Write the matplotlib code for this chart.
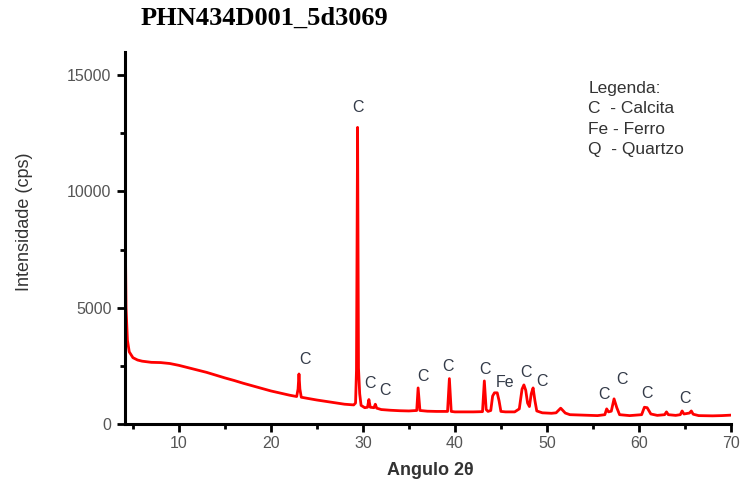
import matplotlib.pyplot as plt
from matplotlib.ticker import MultipleLocator

# difratograma (2theta, cps)
angulo = [4.1, 4.15, 4.25, 4.4, 4.6, 5.0, 5.5, 6, 7, 8, 9, 10, 11, 12, 13, 14, 15,
          16, 17, 18, 19, 20, 21, 22, 22.8, 22.95, 23.05, 23.15, 23.3, 24, 25, 26,
          27, 28, 29.0, 29.2, 29.3, 29.42, 29.52, 29.65, 29.8, 30.2, 30.5, 30.65,
          30.8, 31.2, 31.35, 31.5, 32, 33, 34, 35, 35.85, 36.0, 36.2, 37, 38, 39.2,
          39.4, 39.6, 40, 41, 42, 43.0, 43.2, 43.4, 43.6, 43.9, 44.1, 44.3, 44.6,
          44.8, 45.0, 45.5, 46.5, 47.0, 47.3, 47.5, 47.7, 47.9, 48.1, 48.3, 48.5,
          48.7, 48.9, 49.5, 50.5, 51.0, 51.5, 52.0, 52.5, 54, 55.5, 56.3, 56.5,
          56.7, 57.0, 57.3, 57.6, 57.9, 59, 60.3, 60.6, 60.9, 61.3, 62, 62.8, 63.0,
          63.2, 64, 64.5, 64.7, 64.9, 65.5, 65.7, 65.9, 66.5, 68, 69, 70]
intensidade = [14100, 9000, 5000, 3600, 3100, 2850, 2750, 2700, 2650, 2640, 2600,
               2520, 2420, 2320, 2220, 2100, 1980, 1870, 1750, 1640, 1530, 1420,
               1330, 1240, 1180, 1500, 2150, 1500, 1150, 1100, 1030, 970, 910, 850,
               820, 900, 2300, 12750, 2400, 1300, 800, 700, 720, 1050, 720, 700,
               850, 680, 620, 590, 570, 560, 580, 1550, 580, 550, 540, 540, 1950,
               540, 520, 520, 520, 530, 1850, 620, 540, 580, 1200, 1340, 1340, 1000,
               540, 520, 520, 650, 1500, 1680, 1450, 900, 750, 1300, 1550, 1000, 560,
               480, 460, 480, 680, 470, 400, 380, 360, 400, 650, 520, 550, 1080, 700,
               400, 360, 400, 720, 700, 430, 370, 400, 520, 400, 370, 400, 560, 430,
               470, 560, 420, 360, 350, 360, 380]

# rotulos dos picos
rot_txt = ['C', 'C', 'C', 'C', 'C', 'C', 'C', 'Fe', 'C', 'C', 'C', 'C', 'C', 'C']
rot_x = [23.7, 29.5, 30.8, 32.4, 36.5, 39.3, 43.3, 45.4, 47.7, 49.5, 56.2, 58.2, 60.9, 65.0]
rot_y = [2760, 13620, 1720, 1420, 2030, 2450, 2330, 1770, 2200, 1810, 1250, 1900, 1320, 1080]

legenda = ['Legenda:', 'C  - Calcita', 'Fe - Ferro', 'Q  - Quartzo']

plt.rcParams['font.family'] = ['Liberation Sans', 'DejaVu Sans']

fig = plt.figure(figsize=(7.42, 4.84), dpi=100)
ax = fig.add_axes([0.168, 0.124, 0.817, 0.769])
ax.plot(angulo, intensidade, color='#ff0000', lw=2)

ax.set_xlim(4.1, 70)
ax.set_ylim(0, 16000)
ax.xaxis.set_major_locator(MultipleLocator(10))
ax.xaxis.set_minor_locator(MultipleLocator(5))
ax.yaxis.set_major_locator(MultipleLocator(5000))
ax.yaxis.set_minor_locator(MultipleLocator(2500))
for s in ['top', 'right']:
    ax.spines[s].set_visible(False)
for s in ['left', 'bottom']:
    ax.spines[s].set_linewidth(2.2)
ax.tick_params(which='major', length=6, width=2, labelsize=11.5, labelcolor='#555555')
ax.tick_params(axis='x', which='major', length=5.5, pad=3.5)
ax.tick_params(which='minor', length=3.5, width=2)

for t, x, y in zip(rot_txt, rot_x, rot_y):
    ax.text(x, y, t, ha='center', va='center', fontsize=11.5, color='#333a48')

for i, linha in enumerate(legenda):
    fig.text(0.793, 0.818 - i * 0.0425, linha, fontsize=12.5, color='#333333', va='center')

ax.set_ylabel('Intensidade (cps)', fontsize=13, color='#333333', va='center')
ax.yaxis.set_label_coords(-0.165, 0.543)
ax.set_xlabel('Angulo 2\u03b8', fontsize=13, fontweight='bold', color='#333333', va='center')
ax.xaxis.set_label_coords(0.505, -0.124)
fig.text(0.189, 0.962, 'PHN434D001_5d3069', fontsize=19, fontweight='bold',
         family=['Liberation Serif', 'DejaVu Serif'], va='center')

plt.savefig('out.png', dpi=100)
